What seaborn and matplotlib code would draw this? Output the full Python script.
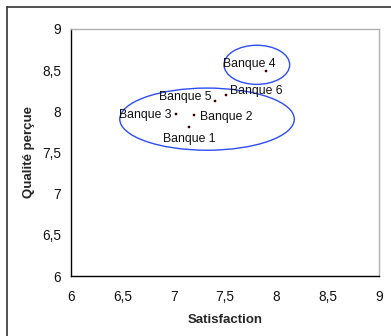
import matplotlib
matplotlib.use("Agg")
import matplotlib.pyplot as plt
from matplotlib.patches import Ellipse
from matplotlib.lines import Line2D
from matplotlib.ticker import FuncFormatter, MultipleLocator
import seaborn as sns
import pandas as pd

banques = ["Banque 1", "Banque 2", "Banque 3", "Banque 4", "Banque 5", "Banque 6"]
satisfaction = [7.15, 7.2, 7.02, 7.9, 7.4, 7.51]
qualite = [7.81, 7.95, 7.97, 8.49, 8.12, 8.2]

df = pd.DataFrame({"Satisfaction": satisfaction, "Qualité perçue": qualite, "Banque": banques})

sns.set_style("white")
plt.rcParams["font.family"] = ["Liberation Sans", "DejaVu Sans"]

W, H = 391, 336
fig = plt.figure(figsize=(W / 100, H / 100), dpi=100)
ax = fig.add_axes([71 / W, 1 - 276 / H, (379 - 71) / W, (276 - 29) / H])

sns.scatterplot(data=df, x="Satisfaction", y="Qualité perçue", ax=ax,
                marker="s", s=4.5, color="#3a0000", edgecolor="#3a0000", linewidth=0.3, zorder=3)

# label placement for each bank: (dx, dy) in points, ha, va
placement = {
    "Banque 1": (0, -4, "center", "top"),
    "Banque 2": (4, -1, "left", "center"),
    "Banque 3": (-3, -1, "right", "center"),
    "Banque 4": (-12, 5, "center", "center"),
    "Banque 5": (-2, 3, "right", "center"),
    "Banque 6": (3, 3, "left", "center"),
}
for name, x, y in zip(banques, satisfaction, qualite):
    dx, dy, ha, va = placement[name]
    ax.annotate(name, (x, y), xytext=(dx, dy), textcoords="offset points",
                ha=ha, va=va, fontsize=8.8, color="#111111", zorder=4)

# groups
ax.add_patch(Ellipse((7.325, 7.905), 1.70, 0.755, fill=False, edgecolor="#2f4cf0", linewidth=1.0, zorder=2))
ax.add_patch(Ellipse((7.81, 8.565), 0.64, 0.475, fill=False, edgecolor="#2f4cf0", linewidth=1.0, zorder=2))

ax.set_xlim(6, 9)
ax.set_ylim(6, 9)
ax.xaxis.set_major_locator(MultipleLocator(0.5))
ax.yaxis.set_major_locator(MultipleLocator(0.5))
fmt = FuncFormatter(lambda v, p: ("%g" % v).replace(".", ","))
ax.xaxis.set_major_formatter(fmt)
ax.yaxis.set_major_formatter(fmt)

ax.set_xlabel("Satisfaction", fontsize=9.5, fontweight="bold", labelpad=7)
ax.set_ylabel("Qualité perçue", fontsize=9.5, fontweight="bold", labelpad=5)

for s in ["left", "bottom"]:
    ax.spines[s].set_color("black")
    ax.spines[s].set_linewidth(1.0)
for s in ["top", "right"]:
    ax.spines[s].set_color("#b0b0b0")
    ax.spines[s].set_linewidth(1.0)

ax.tick_params(axis="both", which="major", direction="inout", length=6, width=1,
               color="black", labelsize=9.8, labelcolor="#111111", pad=4)
ax.tick_params(axis="x", pad=7)

# outer chart frame
fig.add_artist(Line2D([7 / W, 1], [1 - 7 / H, 1 - 7 / H], color="#333333", linewidth=1.2))
fig.add_artist(Line2D([7 / W, 7 / W], [0, 1 - 7 / H], color="#333333", linewidth=1.2))

fig.savefig("out.png", dpi=100)
